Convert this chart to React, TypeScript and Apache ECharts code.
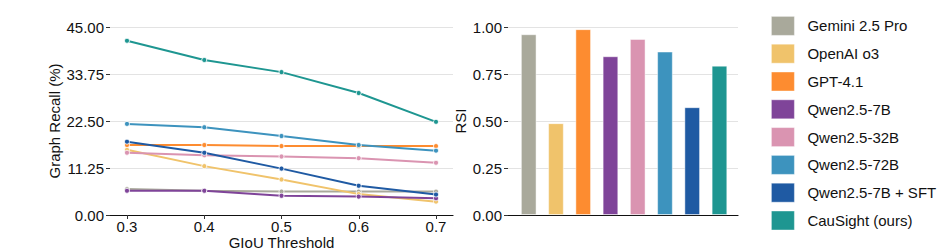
import React, { useEffect, useRef } from "react";
import * as echarts from "echarts";

const modelNames = [
  "Gemini 2.5 Pro",
  "OpenAI o3",
  "GPT-4.1",
  "Qwen2.5-7B",
  "Qwen2.5-32B",
  "Qwen2.5-72B",
  "Qwen2.5-7B + SFT",
  "CauSight (ours)",
];
const modelColors = [
  "#a9a99b",
  "#f0c36b",
  "#fd8c30",
  "#7f4499",
  "#da94b1",
  "#3d93be",
  "#1f5aa3",
  "#1e9691",
];
const thresholds = [0.3, 0.4, 0.5, 0.6, 0.7];
const recallGemini = [6.2, 5.8, 5.6, 5.6, 5.6];
const recallO3 = [15.6, 11.7, 8.5, 5.0, 3.2];
const recallGPT41 = [16.75, 16.75, 16.5, 16.5, 16.5];
const recallQwen7B = [5.8, 5.8, 4.6, 4.4, 4.0];
const recallQwen32B = [14.9, 14.3, 14.0, 13.6, 12.5];
const recallQwen72B = [21.8, 21.0, 18.9, 16.75, 15.4];
const recallQwen7BSFT = [17.55, 14.9, 11.1, 7.0, 4.9];
const recallCauSight = [41.7, 37.1, 34.2, 29.2, 22.3];
const recallSeries = [
  recallGemini,
  recallO3,
  recallGPT41,
  recallQwen7B,
  recallQwen32B,
  recallQwen72B,
  recallQwen7BSFT,
  recallCauSight,
];
const rsiValues = [0.961, 0.488, 0.988, 0.844, 0.936, 0.869, 0.573, 0.794];
const recallTicks = [0, 11.25, 22.5, 33.75, 45];
const rsiTicks = [0, 0.25, 0.5, 0.75, 1];

const FONT = "Liberation Sans, Arial, Helvetica, sans-serif";
const TEXT = "#111";

export default function App() {
  const ref = useRef<HTMLDivElement>(null);
  useEffect(() => {
    if (!ref.current) return;
    const chart = echarts.init(ref.current, undefined, { renderer: "svg" });
    const lineSeries = modelNames.map((name, i) => ({
      name,
      type: "line",
      xAxisIndex: 0,
      yAxisIndex: 0,
      data: thresholds.map((t, j) => [t, recallSeries[i][j]]),
      symbol: "circle",
      symbolSize: 5,
      itemStyle: { color: modelColors[i], borderColor: "#fff", borderWidth: 0.8 },
      lineStyle: { color: modelColors[i], width: 2 },
      emphasis: { disabled: true },
    }));
    const option = {
      animation: false,
      textStyle: { fontFamily: FONT },
      legend: {
        orient: "vertical",
        left: 771,
        top: 16,
        padding: 0,
        itemWidth: 23,
        itemHeight: 19,
        itemGap: 8,
        icon: "rect",
        selectedMode: false,
        textStyle: { fontSize: 15, color: TEXT, fontFamily: FONT, padding: [0, 0, 0, 8] },
        data: modelNames.map((name, i) => ({
          name,
          itemStyle: { color: modelColors[i], borderColor: "rgba(255,255,255,0.5)", borderWidth: 0.8 },
        })),
      },
      grid: [
        { left: 110, top: 27, width: 343, height: 188, containLabel: false, outerBoundsMode: "none" },
        { left: 508, top: 27, width: 230, height: 188, containLabel: false, outerBoundsMode: "none" },
      ],
      xAxis: [
        {
          gridIndex: 0,
          type: "value",
          min: 0.278,
          max: 0.722,
          name: "GIoU Threshold",
          nameLocation: "middle",
          nameGap: 20,
          nameMoveOverlap: false,
          nameTextStyle: { fontSize: 15, lineHeight: 15, color: TEXT, fontFamily: FONT },
          axisLine: { show: true, onZero: false, lineStyle: { color: "#111", width: 1.2 } },
          axisTick: {
            show: true,
            length: 4,
            customValues: thresholds,
            lineStyle: { color: "#333" },
          },
          axisLabel: {
            customValues: thresholds,
            formatter: (v: number) => v.toFixed(1),
            fontSize: 15,
            color: TEXT,
            margin: 4,
            fontFamily: FONT,
          },
          splitLine: { show: false },
        },
        {
          gridIndex: 1,
          type: "value",
          min: -0.76,
          max: 7.68,
          axisLine: { show: true, onZero: false, lineStyle: { color: "#111", width: 1.2 } },
          axisTick: { show: false },
          axisLabel: { show: false },
          splitLine: { show: false },
        },
      ],
      yAxis: [
        {
          gridIndex: 0,
          type: "value",
          min: recallTicks[0],
          max: recallTicks[recallTicks.length - 1],
          interval: 11.25,
          name: "Graph Recall (%)",
          nameLocation: "middle",
          nameGap: 48,
          nameMoveOverlap: false,
          nameTextStyle: { fontSize: 15, color: TEXT, fontFamily: FONT },
          axisLine: { show: false, onZero: false },
          axisTick: { show: true, length: 4, lineStyle: { color: "#333" } },
          axisLabel: {
            formatter: (v: number) => v.toFixed(2),
            fontSize: 15,
            color: TEXT,
            margin: 6,
            fontFamily: FONT,
          },
          splitLine: { show: true, lineStyle: { color: "#e3e3e3", width: 1 } },
        },
        {
          gridIndex: 1,
          type: "value",
          min: rsiTicks[0],
          max: rsiTicks[rsiTicks.length - 1],
          interval: 0.25,
          name: "RSI",
          nameLocation: "middle",
          nameGap: 40,
          nameMoveOverlap: false,
          nameTextStyle: { fontSize: 15, color: TEXT, fontFamily: FONT },
          axisLine: { show: false, onZero: false },
          axisTick: { show: true, length: 4, lineStyle: { color: "#333" } },
          axisLabel: {
            formatter: (v: number) => v.toFixed(2),
            fontSize: 15,
            color: TEXT,
            margin: 6,
            fontFamily: FONT,
          },
          splitLine: { show: true, lineStyle: { color: "#e3e3e3", width: 1 } },
        },
      ],
      series: [
        ...lineSeries,
        {
          name: "RSI",
          type: "bar",
          xAxisIndex: 1,
          yAxisIndex: 1,
          barWidth: 15.5,
          data: rsiValues.map((v, i) => ({
            value: [i, v],
            itemStyle: {
              color: modelColors[i],
              borderColor: "rgba(255,255,255,0.6)",
              borderWidth: 0.8,
            },
          })),
          emphasis: { disabled: true },
        },
      ],
    };
    chart.setOption(option as any);
    return () => chart.dispose();
  }, []);
  return (
    <div
      ref={ref}
      style={{ position: "fixed", left: 0, top: 0, width: 947, height: 252, background: "#fff" }}
    />
  );
}
